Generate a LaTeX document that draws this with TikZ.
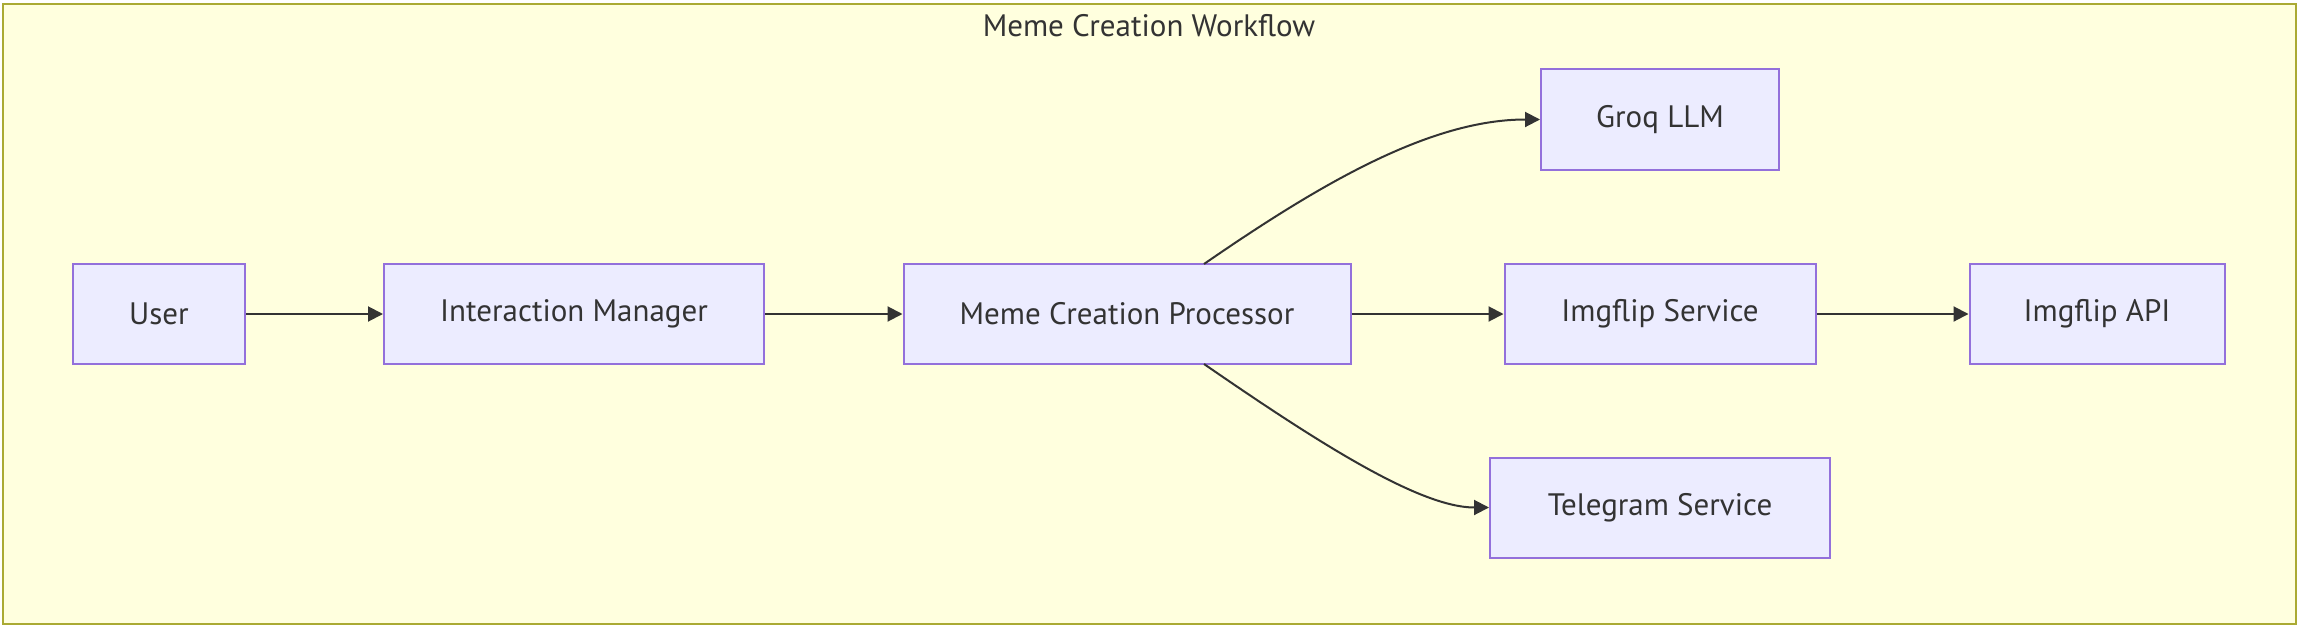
\documentclass[tikz,border=0pt]{standalone}
\usepackage{fontspec}
\setmainfont{PT Sans}
\usetikzlibrary{arrows.meta}
\definecolor{clusterfill}{HTML}{FFFFDE}
\definecolor{clusterline}{HTML}{AAAA33}
\definecolor{nodefill}{HTML}{ECECFF}
\definecolor{nodeline}{HTML}{9370DB}
\definecolor{ink}{HTML}{333333}
\tikzset{
  box/.style={draw=nodeline, fill=nodefill, line width=2pt, minimum height=100pt,
    inner sep=0pt, text=ink, font=\fontsize{31}{36}\selectfont},
  flow/.style={draw=ink, line width=2pt, -{Triangle[length=15pt,width=15pt]}},
}
\begin{document}
\begin{tikzpicture}[x=1pt,y=-1pt]
\useasboundingbox (0,0) rectangle (2299,627);
\draw[draw=clusterline, fill=clusterfill, line width=2pt] (3,4) rectangle (2296,624);
\node[text=ink, font=\fontsize{31}{36}\selectfont] (title) at (1149,26) {Meme Creation Workflow};
\node[box, minimum width=172pt] (user) at (159,314) {User};
\node[box, minimum width=380pt] (im) at (574,314) {Interaction Manager};
\node[box, minimum width=447pt] (mcp) at (1127,314) {Meme Creation Processor};
\node[box, minimum width=238pt, minimum height=101pt] (groq) at (1660,119.5) {Groq LLM};
\node[box, minimum width=311pt] (ifs) at (1660,314) {Imgflip Service};
\node[box, minimum width=255pt] (api) at (2097,314) {Imgflip API};
\node[box, minimum width=340pt] (tg) at (1660,507.5) {Telegram Service};
\draw[flow] (user) -- (im);
\draw[flow] (im) -- (mcp);
\draw[flow] (mcp) -- (ifs);
\draw[flow] (ifs) -- (api);
\coordinate (mt) at (1204,264);
\coordinate (mb) at (1204,364);
\draw[flow] (mt) .. controls (1320,184) and (1430,119.5) .. (groq.west);
\draw[flow] (mb) .. controls (1320,444) and (1420,507.5) .. (tg.west);
\end{tikzpicture}
\end{document}
